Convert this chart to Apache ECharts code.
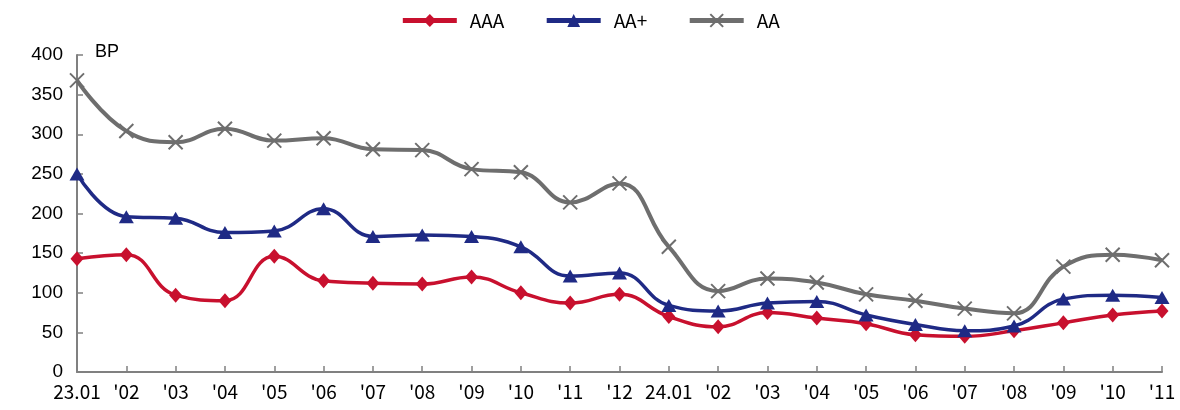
<!DOCTYPE html>
<html>
<head>
<meta charset="utf-8">
<script src="https://cdn.jsdelivr.net/npm/echarts@6/dist/echarts.min.js"></script>
<style>
  html, body { margin: 0; padding: 0; background: #ffffff; }
  #chart { width: 1180px; height: 410px; }
</style>
</head>
<body>
<div id="chart"></div>
<script>
// Monthly periods, Jan 2023 – Nov 2024
const months = ['2023-01','2023-02','2023-03','2023-04','2023-05','2023-06','2023-07','2023-08','2023-09','2023-10','2023-11','2023-12',
                '2024-01','2024-02','2024-03','2024-04','2024-05','2024-06','2024-07','2024-08','2024-09','2024-10','2024-11'];
const tickLabels = ['23.01',"'02","'03","'04","'05","'06","'07","'08","'09","'10","'11","'12",
                    '24.01',"'02","'03","'04","'05","'06","'07","'08","'09","'10","'11"];

// Credit spreads by rating, in BP
const spreadAAA = [143, 148, 97, 90, 146, 115, 112, 111, 120, 100, 87, 98,
                   70, 57, 75, 68, 61, 47, 45, 52, 62, 72, 77];
const spreadAAplus = [250, 196, 194, 176, 178, 206, 171, 173, 171, 158, 121, 125,
                      84, 77, 87, 89, 72, 60, 52, 58, 92, 97, 94];
const spreadAA = [368, 304, 290, 307, 292, 295, 281, 280, 256, 252, 214, 238,
                  158, 102, 118, 113, 98, 90, 80, 74, 133, 148, 141];

const yTicks = { min: 0, max: 400, interval: 50 };

const chart = echarts.init(document.getElementById('chart'));
const crossPath = 'path://M0,0L10,10M10,0L0,10';

chart.setOption({
  animation: false,
  backgroundColor: '#ffffff',
  legend: {
    top: 6,
    left: 'center',
    itemWidth: 54,
    itemHeight: 16,
    itemGap: 40,
    lineStyle: { width: 5 },
    textStyle: { fontFamily: 'Noto Sans CJK SC', fontSize: 19, color: '#000000', padding: [0, 0, 0, 8] },
    data: ['AAA', 'AA+', 'AA']
  },
  grid: { left: 77, right: 18, top: 55, bottom: 38 },
  xAxis: {
    type: 'category',
    data: months,
    boundaryGap: false,
    axisLine: { lineStyle: { color: '#808080', width: 2 } },
    axisTick: { inside: true, length: 6, lineStyle: { color: '#808080', width: 1.5 } },
    axisLabel: {
      interval: 0,
      margin: 10,
      fontFamily: 'Noto Sans CJK SC',
      fontSize: 19,
      color: '#000000',
      formatter: (v, i) => tickLabels[i]
    },
    splitLine: { show: false }
  },
  yAxis: {
    type: 'value',
    min: yTicks.min,
    max: yTicks.max,
    interval: yTicks.interval,
    name: 'BP',
    nameLocation: 'end',
    nameGap: -2,
    nameTextStyle: { fontFamily: 'Liberation Sans', fontSize: 18, color: '#000000', align: 'left', padding: [0, 0, -4, 18] },
    axisLine: { show: true, lineStyle: { color: '#808080', width: 2 } },
    axisTick: { show: true, inside: true, length: 6, lineStyle: { color: '#808080', width: 1.5 } },
    axisLabel: { margin: 14, fontFamily: 'Liberation Sans', fontSize: 19, color: '#000000' },
    splitLine: { show: false }
  },
  series: [
    {
      name: 'AAA',
      type: 'line',
      data: spreadAAA,
      smooth: 0.45,
      symbol: 'diamond',
      symbolSize: [13, 15],
      lineStyle: { color: '#C8102E', width: 3.5 },
      itemStyle: { color: '#C8102E' }
    },
    {
      name: 'AA+',
      type: 'line',
      data: spreadAAplus,
      smooth: 0.45,
      symbol: 'triangle',
      symbolSize: [15, 13],
      lineStyle: { color: '#1F2A85', width: 3.5 },
      itemStyle: { color: '#1F2A85' }
    },
    {
      name: 'AA',
      type: 'line',
      data: spreadAA,
      smooth: 0.45,
      symbol: crossPath,
      symbolSize: 14,
      lineStyle: { color: '#6E6E6E', width: 4 },
      itemStyle: { color: '#6E6E6E', borderColor: '#6E6E6E', borderWidth: 2 }
    }
  ]
});
</script>
</body>
</html>
